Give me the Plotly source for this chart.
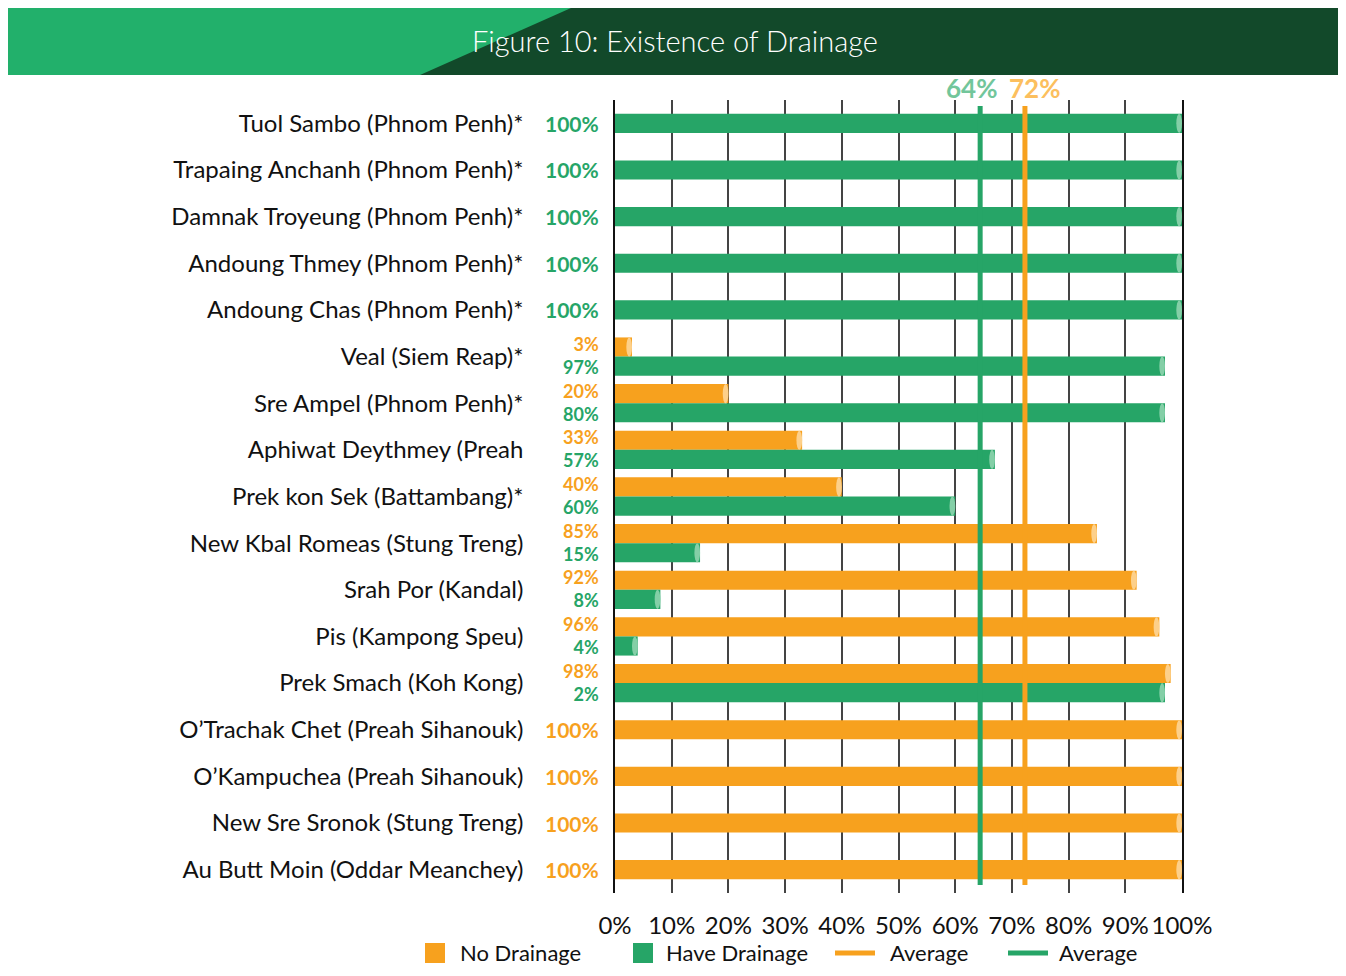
import plotly.graph_objects as go

# data
places = ['Tuol Sambo (Phnom Penh)*', 'Trapaing Anchanh (Phnom Penh)*',
          'Damnak Troyeung (Phnom Penh)*', 'Andoung Thmey (Phnom Penh)*',
          'Andoung Chas (Phnom Penh)*', 'Veal (Siem Reap)*',
          'Sre Ampel (Phnom Penh)*', 'Aphiwat Deythmey (Preah',
          'Prek kon Sek (Battambang)*', 'New Kbal Romeas (Stung Treng)',
          'Srah Por (Kandal)', 'Pis (Kampong Speu)', 'Prek Smach (Koh Kong)',
          'O\u2019Trachak Chet (Preah Sihanouk)', 'O\u2019Kampuchea (Preah Sihanouk)',
          'New Sre Sronok (Stung Treng)', 'Au Butt Moin (Oddar Meanchey)']

# bar lengths as drawn
have_pct = [100, 100, 100, 100, 100, 97, 97, 67, 60, 15, 8, 4, 97, None, None, None, None]
no_pct = [None, None, None, None, None, 3, 20, 33, 40, 85, 92, 96, 98, 100, 100, 100, 100]

# labels as printed
have_lbl = ['100%', '100%', '100%', '100%', '100%', '97%', '80%', '57%', '60%',
            '15%', '8%', '4%', '2%', None, None, None, None]
no_lbl = [None, None, None, None, None, '3%', '20%', '33%', '40%', '85%', '92%',
          '96%', '98%', '100%', '100%', '100%', '100%']

avg_have = 64.4
avg_no = 72.3
avg_have_lbl = '64%'
avg_no_lbl = '72%'

x_ticks = [0, 10, 20, 30, 40, 50, 60, 70, 80, 90, 100]
x_tick_lbl = ['0%', '10%', '20%', '30%', '40%', '50%', '60%', '70%', '80%', '90%', '100%']

legend_names = ['No Drainage', 'Have Drainage', 'Average', 'Average']

GREEN = '#26a567'
ORANGE = '#f7a11e'
GREEN_CAP = '#84cfa7'
ORANGE_CAP = '#fdd08a'
FONT = 'Lato'

# plot area in screen pixels (page body adds an 8px margin)
PAGE = 8
L, R, T, B = 615, 1182, 100, 893
W, H = 1346 - 2 * PAGE, 976 - 2 * PAGE


def px_x(p):
    return (p - L) / (R - L)


def px_y(p):
    return (B - p) / (B - T)


bw = 0.41
both = [h is not None and n is not None for h, n in zip(have_pct, no_pct)]
no_off = [-bw if b else -bw / 2 for b in both]
have_off = [0 if b else -bw / 2 for b in both]

fig = go.Figure()

fig.add_trace(go.Bar(y=places, x=no_pct, orientation='h', width=bw, offset=no_off,
                     marker=dict(color=ORANGE, line_width=0), name=legend_names[0],
                     hoverinfo='skip'))
fig.add_trace(go.Bar(y=places, x=have_pct, orientation='h', width=bw, offset=have_off,
                     marker=dict(color=GREEN, line_width=0), name=legend_names[1],
                     hoverinfo='skip'))

# rounded caps at bar ends
for i in range(len(places)):
    for vals, offs, cap in ((no_pct, no_off, ORANGE_CAP), (have_pct, have_off, GREEN_CAP)):
        v = vals[i]
        if v is None:
            continue
        y0 = i + offs[i]
        fig.add_shape(type='circle', xref='x', yref='y', x0=v - 1.0, x1=v,
                      y0=y0, y1=y0 + bw, fillcolor=cap, line_width=0, layer='above')

# value labels (stacked pairs go in one two-line label)
for i in range(len(places)):
    parts = []
    if no_lbl[i]:
        parts.append('<span style="color:%s"><b>%s</b></span>' % (ORANGE, no_lbl[i]))
    if have_lbl[i]:
        parts.append('<span style="color:%s"><b>%s</b></span>' % (GREEN, have_lbl[i]))
    fig.add_annotation(x=0, y=places[i], xref='x', yref='y', text='<br>'.join(parts),
                       xanchor='right', yanchor='middle', align='right', xshift=-14,
                       yshift=1 if both[i] else 0, showarrow=False,
                       font=dict(family=FONT, size=18 if both[i] else 21))

# average lines
fig.add_shape(type='line', xref='x', yref='paper', x0=avg_no, x1=avg_no,
              y0=px_y(885), y1=px_y(106), line=dict(color=ORANGE, width=5))
fig.add_shape(type='line', xref='x', yref='paper', x0=avg_have, x1=avg_have,
              y0=px_y(885), y1=px_y(106), line=dict(color=GREEN, width=5))

fig.add_annotation(x=avg_have, y=px_y(88), xref='x', yref='paper', text='<b>%s</b>' % avg_have_lbl,
                   xanchor='right', yanchor='middle', xshift=19, showarrow=False,
                   font=dict(family=FONT, size=26, color='#72c69b'))
fig.add_annotation(x=avg_no, y=px_y(88), xref='x', yref='paper', text='<b>%s</b>' % avg_no_lbl,
                   xanchor='left', yanchor='middle', xshift=-18, showarrow=False,
                   font=dict(family=FONT, size=26, color='#fcbf5e'))

# title banner
fig.add_shape(type='rect', xref='paper', yref='paper', x0=px_x(6), x1=px_x(1345),
              y0=px_y(75), y1=px_y(8), fillcolor='#12492a', line_width=0, layer='below')
fig.add_shape(type='path', xref='paper', yref='paper',
              path='M %f,%f L %f,%f L %f,%f L %f,%f Z' % (
                  px_x(6), px_y(8), px_x(571), px_y(8), px_x(420), px_y(75), px_x(6), px_y(75)),
              fillcolor='#22b06b', line_width=0, layer='below')
fig.add_annotation(x=px_x(675), y=px_y(40), xref='paper', yref='paper',
                   xanchor='center', yanchor='middle',
                   text='Figure 10: Existence of Drainage', showarrow=False,
                   font=dict(family=FONT, size=29, color='white', weight=300))

# legend drawn by hand so it can sit at the very bottom of the page
leg_mid = 953
leg_items = [('box', ORANGE, 425, 458), ('box', GREEN, 633, 664),
             ('line', ORANGE, 835, 888), ('line', GREEN, 1008, 1057)]
for name, (kind, col, x0, xt) in zip(legend_names, leg_items):
    if kind == 'box':
        fig.add_shape(type='rect', xref='paper', yref='paper',
                      x0=px_x(x0), x1=px_x(x0 + 20), y0=px_y(leg_mid + 10), y1=px_y(leg_mid - 10),
                      fillcolor=col, line_width=0)
    else:
        fig.add_shape(type='line', xref='paper', yref='paper',
                      x0=px_x(x0), x1=px_x(x0 + 40), y0=px_y(leg_mid), y1=px_y(leg_mid),
                      line=dict(color=col, width=5))
    fig.add_annotation(x=px_x(xt), y=px_y(leg_mid), xref='paper', yref='paper', text=name,
                       xanchor='left', yanchor='middle', showarrow=False,
                       font=dict(family=FONT, size=22, color='#111111'))

fig.update_layout(
    width=W, height=H,
    margin=dict(l=L - PAGE, r=W - (R - PAGE), t=T - PAGE, b=H - (B - PAGE)),
    paper_bgcolor='white', plot_bgcolor='white',
    barmode='overlay', showlegend=False,
    font=dict(family=FONT, color='#111111'),
    xaxis=dict(range=[0, 100], tickvals=x_ticks, ticktext=x_tick_lbl,
               showgrid=True, gridcolor='#444444', gridwidth=1.5, zeroline=False,
               tickfont=dict(size=24, color='#111111'), ticks='', ticklabelstandoff=16),
    yaxis=dict(type='category', autorange='reversed', showgrid=False,
               showline=True, mirror=True, linecolor='#111111', linewidth=1.5,
               tickfont=dict(size=24, color='#111111'), ticks='', ticklabelstandoff=85),
)

fig.write_html('out.html')
